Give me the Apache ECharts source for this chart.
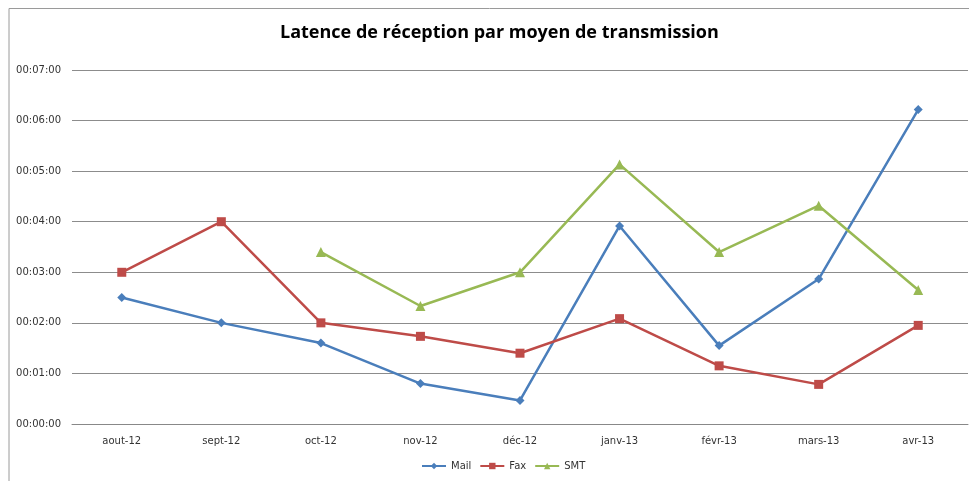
<!DOCTYPE html>
<html>
<head>
<meta charset="utf-8">
<style>
  html, body { margin: 0; padding: 0; background: #fff; }
  #chart { width: 969px; height: 481px; }
</style>
<script src="https://cdn.jsdelivr.net/npm/echarts@6/dist/echarts.min.js"></script>
</head>
<body>
<div id="chart"></div>
<script>
// Months
const categories = ['aout-12', 'sept-12', 'oct-12', 'nov-12', 'déc-12', 'janv-13', 'févr-13', 'mars-13', 'avr-13'];

// Latency per channel, in seconds
const mail = [150, 120, 96, 48, 28, 235, 93, 172, 373];
const fax  = [180, 240, 120, 104, 84, 125, 69, 47, 117];
const smt  = [null, null, 204, 140, 180, 308, 204, 259, 159];

// Y axis: 0 to 7 minutes, one tick per minute
const yMin = 0;
const yMax = 420;
const yStep = 60;

function hms(sec) {
  const h = Math.floor(sec / 3600);
  const m = Math.floor((sec % 3600) / 60);
  const s = Math.round(sec % 60);
  const p = n => String(n).padStart(2, '0');
  return p(h) + ':' + p(m) + ':' + p(s);
}

const chart = echarts.init(document.getElementById('chart'), null, { renderer: 'canvas' });

const baseFont = '"DejaVu Sans", "Liberation Sans", sans-serif';

chart.setOption({
  backgroundColor: '#ffffff',
  animation: false,
  title: {
    text: 'Latence de réception par moyen de transmission',
    left: 275,
    top: 19,
    textStyle: {
      fontFamily: '"Open Sans", "Liberation Sans", sans-serif',
      fontSize: 18,
      fontWeight: 'bold',
      color: '#000'
    }
  },
  graphic: [{
    type: 'polyline',
    shape: { points: [[9, 490], [9, 8.5], [980, 8.5]] },
    style: { stroke: '#9a9a9a', lineWidth: 1, fill: null },
    silent: true
  }],
  legend: {
    bottom: 5,
    left: 416,
    itemWidth: 24,
    itemHeight: 8,
    itemGap: 8,
    textStyle: { fontFamily: baseFont, fontSize: 10, color: '#333' },
    data: ['Mail', 'Fax', 'SMT']
  },
  grid: { left: 72, right: 1, top: 70, bottom: 57, containLabel: false },
  xAxis: {
    type: 'category',
    data: categories,
    boundaryGap: true,
    axisLine: { show: true, lineStyle: { color: '#888', width: 1 } },
    axisTick: { show: false },
    axisLabel: { fontFamily: baseFont, fontSize: 10, color: '#333', margin: 12 }
  },
  yAxis: {
    type: 'value',
    min: yMin,
    max: yMax,
    interval: yStep,
    axisLine: { show: false },
    axisTick: { show: false },
    axisLabel: {
      fontFamily: baseFont, fontSize: 10, color: '#333', margin: 11,
      formatter: v => hms(v)
    },
    splitLine: { show: true, lineStyle: { color: '#8c8c8c', width: 1 } }
  },
  series: [
    {
      name: 'Mail', type: 'line', data: mail,
      symbol: 'diamond', symbolSize: 9,
      lineStyle: { color: '#4A7EBB', width: 2.5 },
      itemStyle: { color: '#4A7EBB' }
    },
    {
      name: 'Fax', type: 'line', data: fax,
      symbol: 'rect', symbolSize: 9,
      lineStyle: { color: '#BE4B48', width: 2.5 },
      itemStyle: { color: '#BE4B48' }
    },
    {
      name: 'SMT', type: 'line', data: smt,
      symbol: 'triangle', symbolSize: 10,
      lineStyle: { color: '#98B954', width: 2.5 },
      itemStyle: { color: '#98B954' }
    }
  ]
});
</script>
</body>
</html>
